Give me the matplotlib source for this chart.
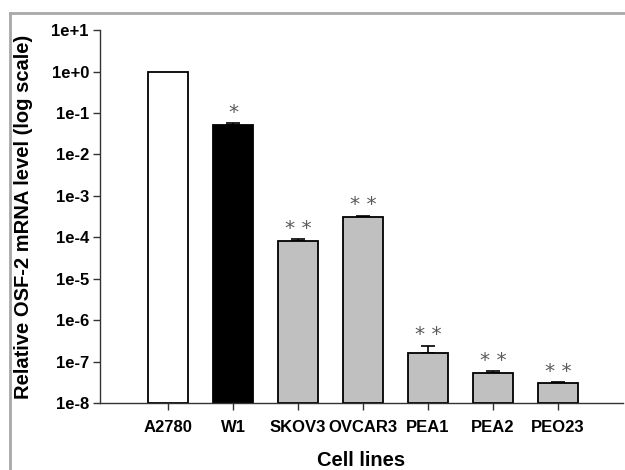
import numpy as np
import matplotlib.pyplot as plt
from matplotlib.lines import Line2D

#%% Dati
cell_lines = ['A2780', 'W1', 'SKOV3', 'OVCAR3', 'PEA1', 'PEA2', 'PEO23']
osf2_level = np.array([1.0, 0.05, 8.0e-5, 3.1e-4, 1.64e-7, 5.2e-8, 3.0e-8])
osf2_err_up = np.array([0.0, 0.007, 1.0e-5, 0.2e-4, 0.78e-7, 0.6e-8, 0.15e-8])
stars = ['', '*', '* *', '* *', '* *', '* *', '* *']
bar_colors = ['white', 'black', '#c0c0c0', '#c0c0c0', '#c0c0c0', '#c0c0c0', '#c0c0c0']

plt.rcParams['font.family'] = ['Liberation Sans', 'DejaVu Sans']

fig = plt.figure(figsize=(6.25, 4.7), dpi=100)
ax = fig.add_axes([0.16, 0.1426, 0.8368, 0.7934])

x = np.arange(len(cell_lines))
bottom = 1e-8
ax.bar(x, osf2_level - bottom, bottom=bottom, width=0.61, color=bar_colors,
       edgecolor='black', linewidth=1.3, zorder=2)

# solo barre di errore verso l'alto
has_err = osf2_err_up > 0
ax.errorbar(x[has_err], osf2_level[has_err],
            yerr=[np.zeros(has_err.sum()), osf2_err_up[has_err]],
            fmt='none', ecolor='black', elinewidth=1.2, capsize=5, capthick=1.2, zorder=1)

# asterischi
for xi, yi, e, s in zip(x, osf2_level, osf2_err_up, stars):
    if s:
        ax.annotate(s, (xi, yi + e), xytext=(0, 1), textcoords='offset points',
                    ha='center', va='bottom', fontsize=14.5, color='#5a5a5a',
                    family='DejaVu Sans')

ax.set_yscale('log')
ax.set_ylim(1e-8, 1e1)
ax.set_xlim(-1.05, 7.0)
yticks = 10.0 ** np.arange(-8, 2)
ax.set_yticks(yticks)
ax.set_yticklabels(['1e-8', '1e-7', '1e-6', '1e-5', '1e-4', '1e-3', '1e-2', '1e-1', '1e+0', '1e+1'])
ax.minorticks_off()
ax.set_xticks(x)
ax.set_xticklabels(cell_lines)

for lab in ax.get_xticklabels() + ax.get_yticklabels():
    lab.set_fontweight('bold')
    lab.set_fontsize(12)

ax.tick_params(axis='both', direction='out', length=5, width=1, color='#333333')
ax.tick_params(axis='y', pad=3)
ax.tick_params(axis='x', pad=7)
ax.spines['top'].set_visible(False)
ax.spines['right'].set_visible(False)
ax.spines['left'].set_linewidth(1.0)
ax.spines['bottom'].set_linewidth(1.0)
ax.spines['left'].set_color('#333333')
ax.spines['bottom'].set_color('#333333')

ax.set_ylabel('Relative OSF-2 mRNA level (log scale)', fontsize=14.5, fontweight='bold')
ax.yaxis.set_label_coords(-0.128, 0.5)
ax.set_xlabel('Cell lines', fontsize=14.5, fontweight='bold')
ax.xaxis.set_label_coords(0.5, -0.13)

# cornice grigia attorno alla figura
fig.add_artist(Line2D([10 / 625, 10 / 625], [0, 1 - 13 / 470], transform=fig.transFigure,
                      color='#a8a8a8', linewidth=2))
fig.add_artist(Line2D([10 / 625, 1], [1 - 13 / 470, 1 - 13 / 470], transform=fig.transFigure,
                      color='#a8a8a8', linewidth=2))

fig.savefig('out.png', dpi=100)
